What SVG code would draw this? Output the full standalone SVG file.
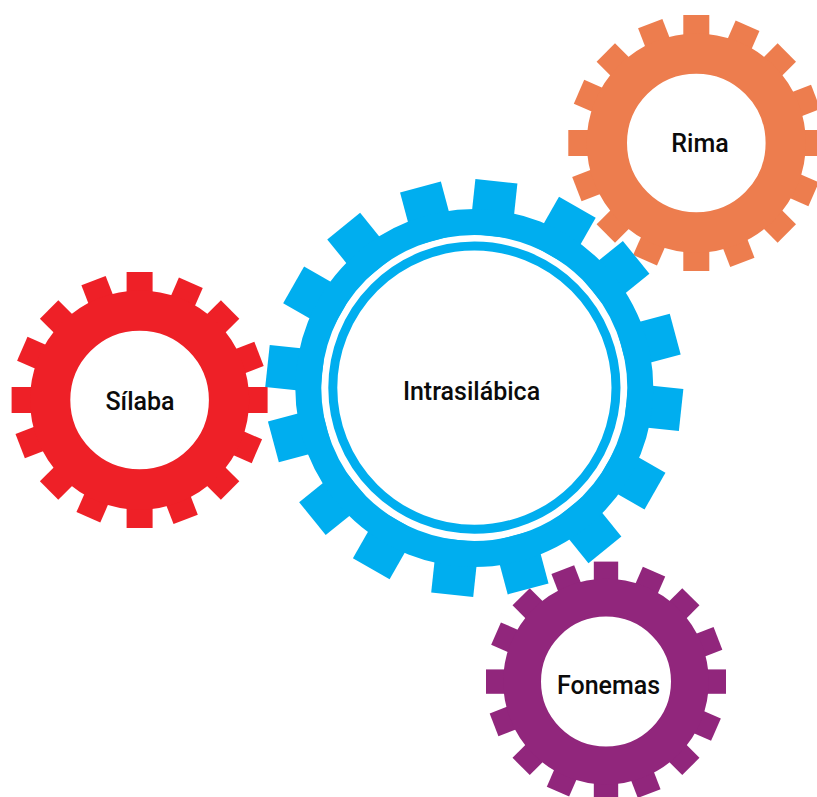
<svg xmlns="http://www.w3.org/2000/svg" xmlns:xlink="http://www.w3.org/1999/xlink" width="817" height="797" viewBox="0 0 817 797">
  <style>
    .label { font-family: Roboto, "Liberation Sans", sans-serif; font-weight: 500; font-size: 25px; fill: #0b0b0b; stroke: none; text-anchor: middle; }
    .body { fill: none; }
    .red { fill: #EE2027; stroke: #EE2027; }
    .orange { fill: #ED7D4E; stroke: #ED7D4E; }
    .purple { fill: #91267C; stroke: #91267C; }
    .blue { fill: #00AEEF; stroke: #00AEEF; }
    .gear use { stroke: none; }
  </style>
  <defs>
    <g id="teeth">
      <rect x="-13" y="-128" width="26" height="34" transform="rotate(0)"/>
      <rect x="-13" y="-128" width="26" height="34" transform="rotate(23.6)"/>
      <rect x="-13" y="-128" width="26" height="34" transform="rotate(45)"/>
      <rect x="-13" y="-128" width="26" height="34" transform="rotate(68.9)"/>
      <rect x="-13" y="-128" width="26" height="34" transform="rotate(90)"/>
      <rect x="-13" y="-128" width="26" height="34" transform="rotate(113.6)"/>
      <rect x="-13" y="-128" width="26" height="34" transform="rotate(135)"/>
      <rect x="-13" y="-128" width="26" height="34" transform="rotate(158.9)"/>
      <rect x="-13" y="-128" width="26" height="34" transform="rotate(180)"/>
      <rect x="-13" y="-128" width="26" height="34" transform="rotate(203.6)"/>
      <rect x="-13" y="-128" width="26" height="34" transform="rotate(225)"/>
      <rect x="-13" y="-128" width="26" height="34" transform="rotate(248.9)"/>
      <rect x="-13" y="-128" width="26" height="34" transform="rotate(270)"/>
      <rect x="-13" y="-128" width="26" height="34" transform="rotate(293.6)"/>
      <rect x="-13" y="-128" width="26" height="34" transform="rotate(315)"/>
      <rect x="-13" y="-128" width="26" height="34" transform="rotate(338.9)"/>
    </g>
  </defs>
  <g id="connectors"/>
  <g id="node-silaba" class="gear red">
    <use href="#teeth" transform="translate(139.6 400)"/>
    <circle class="body" cx="139.6" cy="400" r="89.45" stroke-width="40.3"/>
    <text class="label" x="140" y="409.5">Sílaba</text>
  </g>
  <g id="node-rima" class="gear orange">
    <use href="#teeth" transform="translate(696.3 143)"/>
    <circle class="body" cx="696.3" cy="143" r="89.45" stroke-width="40.3"/>
    <text class="label" x="700" y="152">Rima</text>
  </g>
  <g id="node-fonemas" class="gear purple">
    <use href="#teeth" transform="translate(606 681.6) scale(0.9375)"/>
    <circle class="body" cx="606" cy="681.6" r="83.9" stroke-width="37.8"/>
    <text class="label" x="608.5" y="693.5">Fonemas</text>
  </g>
  <g id="node-intrasilabica" class="gear blue">
    <use href="#teeth" transform="translate(474.3 388) rotate(6.1) scale(1.625)"/>
    <circle class="body" cx="474.3" cy="388" r="166" stroke-width="26"/>
    <circle class="body" cx="474.4" cy="387.7" r="141.6" stroke-width="9"/>
    <text class="label" x="471.5" y="399.5">Intrasilábica</text>
  </g>
</svg>
